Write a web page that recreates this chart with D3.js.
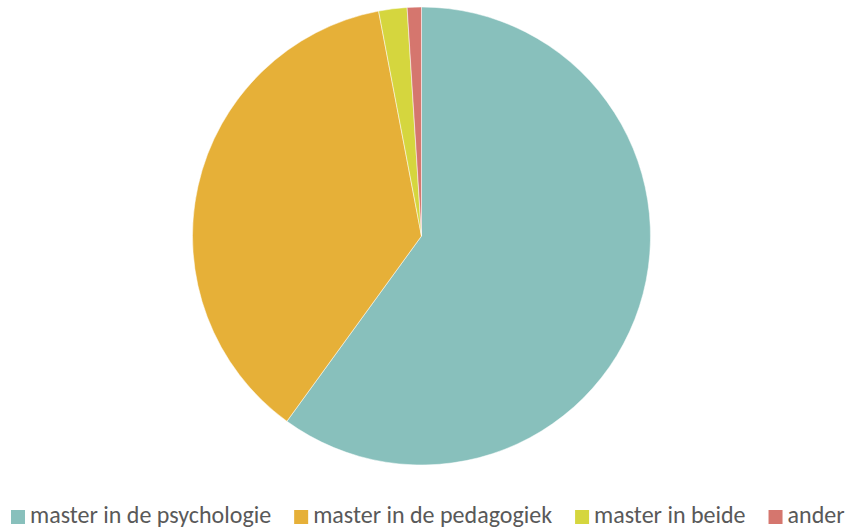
<!DOCTYPE html>
<html>
<head>
<meta charset="utf-8">
<script src="https://cdn.jsdelivr.net/npm/d3@7"></script>
<style>
  body { margin: 0; background: #fff; }
  svg { display: block; }
</style>
</head>
<body>
<svg id="chart" width="845" height="529"></svg>
<script>
const width = 845;
const height = 529;

// data (percent)
const categories = ["master in de psychologie", "master in de pedagogiek", "master in beide", "ander"];
const values = [60, 37, 2, 1];
const colors = ["#88C0BC", "#E6B038", "#D5D63E", "#D5766E"];

const center = [421.5, 236];
const radius = 229;

const svg = d3.select('#chart');

const pie = d3.pie().sort(null).value(d => d.value);
const arc = d3.arc().innerRadius(0).outerRadius(radius);

const data = categories.map((c, i) => ({ name: c, value: values[i], color: colors[i] }));

svg.append('g')
    .attr('transform', `translate(${center[0]},${center[1]})`)
    .selectAll('path')
    .data(pie(data))
    .enter().append('path')
    .attr('d', arc)
    .attr('fill', d => d.data.color)
    .attr('stroke', '#fff')
    .attr('stroke-width', 0.5);

// legend
const legend = svg.append('g').attr('class', 'legend');
const items = legend.selectAll('g')
    .data(data)
    .enter().append('g');

items.append('rect')
    .attr('width', 14)
    .attr('height', 14)
    .attr('y', -13)
    .attr('fill', d => d.color);

items.append('text')
    .attr('x', 19)
    .attr('y', 0)
    .style('font-family', 'Carlito, Calibri, Lato, "Open Sans", sans-serif')
    .style('font-size', '24px')
    .attr('fill', '#595959')
    .text(d => d.name);

let x = 11;
items.each(function () {
    const g = d3.select(this);
    const w = g.select('text').node().getComputedTextLength();
    g.attr('transform', `translate(${x},${523})`);
    x += 19 + w + 23;
});
</script>
</body>
</html>
